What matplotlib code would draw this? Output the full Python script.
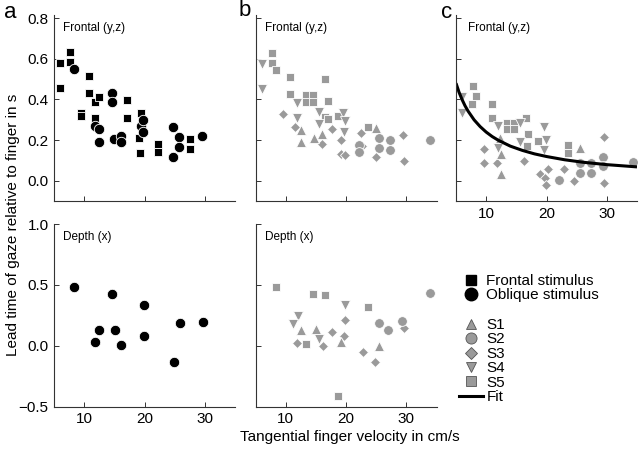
import matplotlib
matplotlib.use("Agg")
import matplotlib.pyplot as plt
from matplotlib.lines import Line2D

plt.rcParams['font.family'] = ['Liberation Sans', 'DejaVu Sans']

GRAY = '#9a9a9a'

###############################################################################
# Panel a: pooled data, black symbols by stimulus orientation
a_front_x = [5.9, 5.9, 7.6, 7.6, 9.4, 9.4, 10.7, 10.7, 11.8, 11.8, 12.4,
             17.0, 17.0, 19.3, 19.1, 19.2, 22.2, 22.2, 27.5, 27.5]
a_front_y = [0.579, 0.456, 0.631, 0.582, 0.336, 0.32, 0.515, 0.43, 0.39,
             0.307, 0.41, 0.398, 0.307, 0.336, 0.21, 0.136, 0.182, 0.144,
             0.205, 0.156]
a_obl_x = [8.3, 11.8, 12.4, 12.4, 14.6, 14.6, 14.9, 16.1, 16.1, 19.4, 19.7,
           19.7, 24.7, 24.7, 25.7, 25.7, 29.4]
a_obl_y = [0.549, 0.27, 0.256, 0.189, 0.431, 0.39, 0.205, 0.221, 0.189,
           0.27, 0.297, 0.238, 0.264, 0.12, 0.215, 0.169, 0.221]
a_depth_x = [8.3, 14.6, 19.8, 12.4, 11.8, 15.0, 16.1, 19.8, 25.8, 29.6, 24.8]
a_depth_y = [0.48, 0.425, 0.337, 0.131, 0.033, 0.131, 0.005, 0.079, 0.189,
             0.197, -0.13]

###############################################################################
# Panel b: same data split by subject (S1..S5)
b_front = {
    'S1': ([12.5, 12.6, 14.7, 16.0, 24.9],
           [0.189, 0.249, 0.21, 0.23, 0.262]),
    'S2': ([22.1, 22.1, 25.5, 25.5, 27.3, 27.3, 34.0],
           [0.175, 0.144, 0.213, 0.164, 0.2, 0.151, 0.2]),
    'S3': ([9.6, 11.6, 16.0, 17.6, 19.1, 19.1, 19.9, 22.5, 22.6, 24.9, 29.5,
            29.6],
           [0.331, 0.266, 0.18, 0.254, 0.2, 0.134, 0.126, 0.233, 0.172, 0.118,
            0.225, 0.098]),
    'S4': ([6.0, 6.0, 11.9, 11.9, 15.5, 15.5, 19.5, 19.9, 19.7],
           [0.574, 0.451, 0.385, 0.311, 0.341, 0.282, 0.336, 0.292, 0.238]),
    'S5': ([7.7, 7.7, 8.4, 10.8, 10.8, 13.3, 14.5, 13.3, 14.5, 16.6, 17.0,
            16.6, 17.0, 18.6, 23.6],
           [0.626, 0.577, 0.546, 0.51, 0.426, 0.421, 0.421, 0.389, 0.389,
            0.503, 0.393, 0.316, 0.303, 0.32, 0.266]),
}
b_depth = {
    'S1': ([12.5, 15.0, 19.1, 25.4], [0.132, 0.137, 0.03, 0.0]),
    'S2': ([25.5, 26.9, 29.2, 34.0], [0.184, 0.132, 0.2, 0.435]),
    'S3': ([11.9, 16.2, 17.7, 19.9, 19.7, 22.8, 24.8, 29.6],
           [0.025, 0.0, 0.11, 0.211, 0.079, -0.049, -0.132, 0.145]),
    'S4': ([12.0, 11.2, 15.5, 19.8], [0.241, 0.178, 0.055, 0.334]),
    'S5': ([8.4, 14.6, 16.6, 23.6, 13.4, 18.7],
           [0.479, 0.425, 0.414, 0.32, 0.011, -0.414]),
}

###############################################################################
# Panel c: normalised frontal data with the fitted curve
c_front = {
    'S1': ([12.5, 12.3, 12.4, 25.5], [0.036, 0.213, 0.13, 0.164]),
    'S2': ([22.1, 25.6, 25.6, 27.4, 27.4, 29.4, 29.4, 34.3],
           [0.003, 0.041, 0.09, 0.09, 0.041, 0.118, 0.074, 0.095]),
    'S3': ([9.6, 9.6, 11.8, 16.2, 18.9, 19.7, 19.9, 20.2, 22.9, 24.6, 29.6,
            29.6],
           [0.159, 0.09, 0.09, 0.098, 0.036, 0.016, -0.021, 0.061, 0.057,
            0.0, 0.216, -0.011]),
    'S4': ([6.0, 6.0, 11.9, 11.9, 15.6, 15.6, 19.6, 19.9, 19.6],
           [0.41, 0.336, 0.27, 0.164, 0.287, 0.189, 0.266, 0.2, 0.152]),
    'S5': ([7.8, 8.3, 7.6, 10.9, 10.9, 13.4, 14.6, 13.4, 14.6, 16.6, 17.0,
            16.8, 18.6, 23.6, 23.6],
           [0.467, 0.418, 0.377, 0.377, 0.308, 0.287, 0.287, 0.254, 0.254,
            0.308, 0.23, 0.172, 0.197, 0.177, 0.139]),
}
fit_x = [5, 5.5, 6, 6.5, 7, 8, 9, 10, 11, 12, 14, 16, 18, 20, 23, 26, 30, 35]
fit_y = [0.48, 0.436, 0.40, 0.369, 0.343, 0.30, 0.267, 0.24, 0.218, 0.20,
         0.171, 0.15, 0.133, 0.12, 0.104, 0.092, 0.08, 0.069]

subj_marker = {'S1': '^', 'S2': 'o', 'S3': 'D', 'S4': 'v', 'S5': 's'}
subj_size = {'S1': 6.5, 'S2': 7, 'S3': 5, 'S4': 6.5, 'S5': 6}


def style(ax, ylim, yticks, ylabels=True, xlabels=True):
    ax.set_xlim(5, 35)
    ax.set_ylim(*ylim)
    ax.set_xticks([10, 20, 30])
    ax.set_yticks(yticks)
    for side in ['top', 'right']:
        ax.spines[side].set_visible(False)
    for side in ['left', 'bottom']:
        ax.spines[side].set_linewidth(0.8)
        ax.spines[side].set_color('#333333')
    ax.tick_params(direction='in', length=3.5, width=0.7, color='#333333',
                   labelsize=11, pad=4)
    if not ylabels:
        ax.set_yticklabels([])
    if not xlabels:
        ax.set_xticklabels([])


def plot_subjects(ax, data):
    for s in ['S5', 'S4', 'S3', 'S1', 'S2']:
        xs, ys = data[s]
        ax.plot(xs, ys, linestyle='none', marker=subj_marker[s],
                ms=subj_size[s], mfc=GRAY, mec='white', mew=0.6)


fig = plt.figure(figsize=(6.4, 4.49), dpi=100)
W, H = 640., 449.
col_left = [54.3, 255.5, 456.]
col_w = 181.
top_row = (15., 201.3)
bot_row = (224., 406.7)


def add_ax(col, row):
    y0, y1 = row
    return fig.add_axes([col_left[col] / W, 1 - y1 / H, col_w / W,
                         (y1 - y0) / H])


top_ticks = [0, 0.2, 0.4, 0.6, 0.8]
bot_ticks = [-0.5, 0, 0.5, 1]

ax = add_ax(0, top_row)
ax.plot(a_front_x, a_front_y, 's', ms=6, mfc='black', mec='white', mew=0.6)
ax.plot(a_obl_x, a_obl_y, 'o', ms=7.5, mfc='black', mec='white', mew=0.6)
style(ax, (-0.1, 0.815), top_ticks, xlabels=False)
ax.text(0.05, 0.93, 'Frontal (y,z)', transform=ax.transAxes, fontsize=8.5,
        va='center')

ax = add_ax(0, bot_row)
ax.plot(a_depth_x, a_depth_y, 'o', ms=7.5, mfc='black', mec='white', mew=0.6)
style(ax, (-0.5, 1.0), bot_ticks)
ax.text(0.05, 0.93, 'Depth (x)', transform=ax.transAxes, fontsize=8.5,
        va='center')

ax = add_ax(1, top_row)
plot_subjects(ax, b_front)
style(ax, (-0.1, 0.815), top_ticks, ylabels=False, xlabels=False)
ax.text(0.055, 0.93, 'Frontal (y,z)', transform=ax.transAxes, fontsize=8.5,
        va='center')

ax = add_ax(1, bot_row)
plot_subjects(ax, b_depth)
style(ax, (-0.5, 1.0), bot_ticks, ylabels=False)
ax.text(0.055, 0.93, 'Depth (x)', transform=ax.transAxes, fontsize=8.5,
        va='center')

ax = add_ax(2, top_row)
plot_subjects(ax, c_front)
ax.plot(fit_x, fit_y, color='black', lw=2.2, solid_capstyle='butt')
style(ax, (-0.1, 0.815), top_ticks, ylabels=False)
ax.text(0.065, 0.93, 'Frontal (y,z)', transform=ax.transAxes, fontsize=8.5,
        va='center')

# legends in the empty lower-right slot
h1 = [Line2D([], [], ls='none', marker='s', ms=7, mfc='black', mec='black'),
      Line2D([], [], ls='none', marker='o', ms=9, mfc='black', mec='black')]
fig.legend(h1, ['Frontal stimulus', 'Oblique stimulus'],
           loc='upper left', bbox_to_anchor=(459 / W, 1 - 274 / H),
           frameon=False, fontsize=11, handlelength=1.55,
           handletextpad=0.25, labelspacing=0.0, borderpad=0,
           borderaxespad=0)
h2 = [Line2D([], [], ls='none', marker=subj_marker[s], ms=subj_size[s] + 1,
             mfc=GRAY, mec='#555555', mew=0.6)
      for s in ['S1', 'S2', 'S3', 'S4', 'S5']]
h2.append(Line2D([], [], color='black', lw=2.2))
fig.legend(h2, ['S1', 'S2', 'S3', 'S4', 'S5', 'Fit'],
           loc='upper left', bbox_to_anchor=(459 / W, 1 - 318 / H),
           frameon=False, fontsize=11, handlelength=1.55, handletextpad=0.25,
           labelspacing=0.03, borderpad=0, borderaxespad=0)

fig.text(10 / W, 1 - 12 / H, 'a', fontsize=16, ha='center', va='center')
fig.text(245 / W, 1 - 10 / H, 'b', fontsize=16, ha='center', va='center')
fig.text(447 / W, 1 - 12 / H, 'c', fontsize=16, ha='center', va='center')

fig.text(13 / W, 0.5, 'Lead time of gaze relative to finger in s',
         rotation=90, fontsize=11, ha='center', va='center')
fig.text(350 / W, 1 - 437 / H, 'Tangential finger velocity in cm/s',
         fontsize=11, ha='center', va='center')

fig.savefig('out.png', dpi=100)
